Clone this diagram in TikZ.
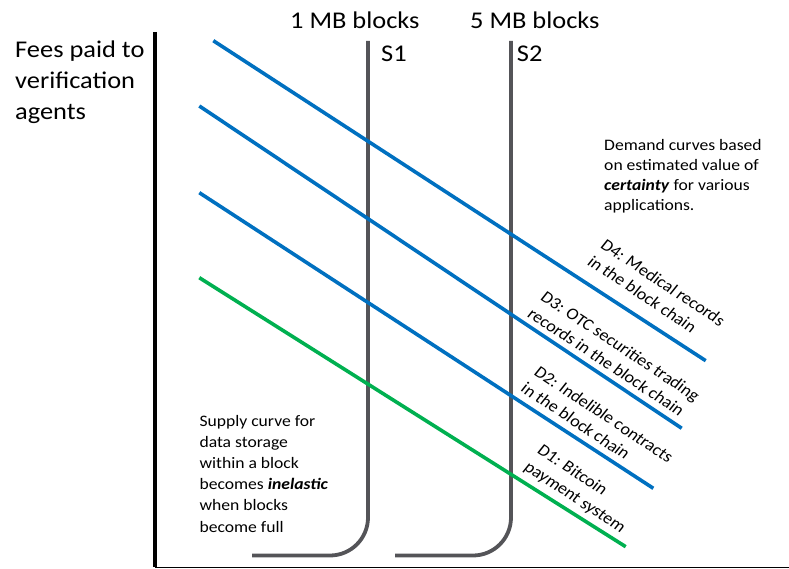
\documentclass[tikz,border=0pt]{standalone}
\usepackage{fontspec}
\setmainfont{Carlito}
\definecolor{dblue}{HTML}{0070C0}
\definecolor{dgreen}{HTML}{00B050}
\definecolor{sgrey}{HTML}{545458}
\begin{document}
\begin{tikzpicture}[x=1pt,y=-1pt,
  axisline/.style={line width=4pt,black},
  baseline axis/.style={line width=1.3pt,black},
  supply/.style={line width=3.8pt,sgrey,rounded corners=38pt},
  demand/.style={line width=3.6pt,dblue},
  basedemand/.style={line width=3.6pt,dgreen},
  bigtext/.style={inner sep=0pt,xscale=1.1,align=left,
    font=\fontsize{24}{31}\selectfont},
  smalltext/.style={inner sep=0pt,xscale=1.1,align=left,
    font=\fontsize{16}{20}\selectfont},
  curvelabel/.style={inner sep=0pt,xscale=1.1,rotate=-36,align=left,
    anchor=north west,font=\fontsize{16.5}{20.5}\selectfont}]
\useasboundingbox (0,0) rectangle (789,569);

% axes
\coordinate (ytop) at (155,32);
\coordinate (origin) at (155,567.3);
\coordinate (xend) at (789,567.3);
\draw[axisline] (ytop) -- (origin);
\draw[baseline axis] (origin) -- (xend);

% supply curves: vertical, bending into a flat foot
\coordinate (s1top) at (368,41);
\coordinate (s1knee) at (368,555.5);
\coordinate (s1foot) at (252,555.5);
\coordinate (s2top) at (511,41);
\coordinate (s2knee) at (511,555.5);
\coordinate (s2foot) at (395,555.5);
\draw[supply] (s1top) -- (s1knee) -- (s1foot);
\draw[supply] (s2top) -- (s2knee) -- (s2foot);

% demand curves
\coordinate (d4a) at (213.3,40.7);   \coordinate (d4b) at (705.7,360.7);
\coordinate (d3a) at (199.3,106);    \coordinate (d3b) at (681.7,428.3);
\coordinate (d2a) at (199.3,192.7);  \coordinate (d2b) at (653.3,488.3);
\coordinate (d1a) at (199.3,277.7);  \coordinate (d1b) at (625.7,546.7);
\draw[demand] (d4a) -- (d4b);
\draw[demand] (d3a) -- (d3b);
\draw[demand] (d2a) -- (d2b);
\draw[basedemand] (d1a) -- (d1b);

% titles (multi-line nodes are anchored on their last baseline)
\node[bigtext,anchor=base west] (ylabel) at (15,119.5) {Fees paid to\\verification\\agents};
\node[bigtext,anchor=base west] (s1size) at (290,28.3) {1 MB blocks};
\node[bigtext,anchor=base west] (s2size) at (470,28.3) {5 MB blocks};
\node[bigtext,anchor=base west] (s1name) at (381,61.7) {S1};
\node[bigtext,anchor=base west] (s2name) at (516.7,61.7) {S2};

% notes
\node[smalltext,anchor=base west] (demandnote) at (604,210.5)
  {Demand curves based\\on estimated value of\\\textbf{\textit{certainty}} for various\\applications.};
\node[smalltext,anchor=base west,font=\fontsize{16}{21.2}\selectfont] (supplynote) at (199.3,532)
  {Supply curve for\\data storage\\within a block\\becomes \textbf{\textit{inelastic}}\\when blocks\\become full};

% demand curve labels
\node[curvelabel] (d4lab) at (607,238) {D4: Medical records\\in the block chain};
\node[curvelabel] (d3lab) at (547,290) {D3: OTC securities trading\\records in the block chain};
\node[curvelabel] (d2lab) at (540.4,364.8) {D2: Indelible contracts\\in the block chain};
\node[curvelabel] (d1lab) at (543.7,443) {D1: Bitcoin\\payment system};
\end{tikzpicture}
\end{document}
